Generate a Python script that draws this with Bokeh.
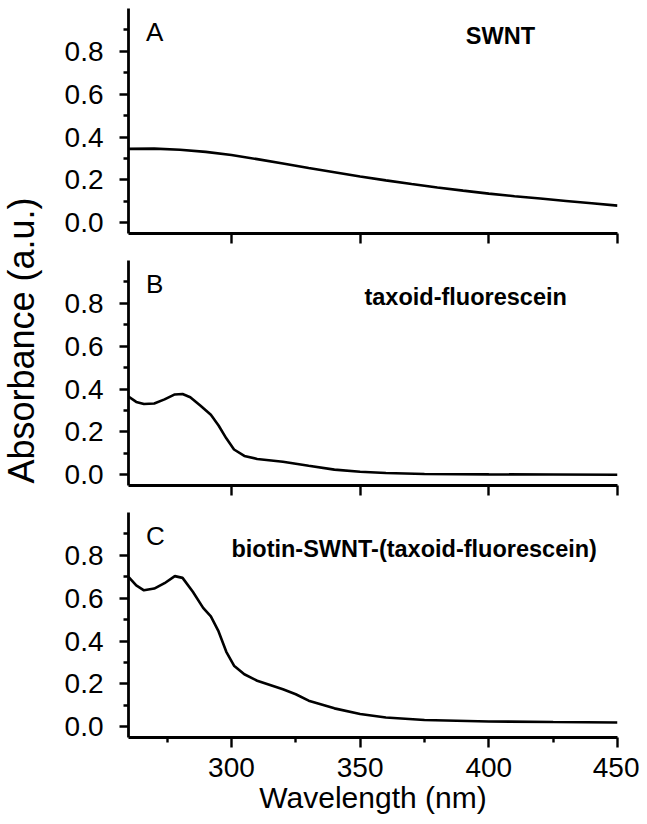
import math
from bokeh.plotting import figure
from bokeh.layouts import row, column
from bokeh.models import FixedTicker, Range1d, Label
from bokeh.embed import file_html
from bokeh.resources import INLINE

# ---------------- data ----------------
wl_a = [260, 270, 280, 290, 300, 310, 320, 330, 340, 350, 360, 370, 380, 390, 400, 410, 420, 430, 440, 450]
abs_a = [0.345, 0.346, 0.341, 0.331, 0.316, 0.297, 0.277, 0.256, 0.236, 0.216, 0.198, 0.181, 0.165, 0.150, 0.136, 0.124, 0.113, 0.102, 0.091, 0.080]

wl_b = [260, 263, 266, 270, 274, 278, 281, 284, 288, 292, 295, 298, 301, 305, 310, 320, 330, 340, 350, 360, 375, 400, 425, 450]
abs_b = [0.365, 0.340, 0.330, 0.333, 0.352, 0.375, 0.377, 0.362, 0.322, 0.280, 0.230, 0.170, 0.118, 0.088, 0.074, 0.061, 0.042, 0.024, 0.014, 0.008, 0.004, 0.002, 0.001, 0.000]

wl_c = [260, 263, 266, 270, 274, 278, 281, 285, 289, 292, 295, 298, 301, 305, 310, 315, 320, 325, 330, 340, 350, 360, 375, 400, 425, 450]
abs_c = [0.700, 0.660, 0.637, 0.645, 0.670, 0.703, 0.695, 0.630, 0.555, 0.515, 0.445, 0.350, 0.285, 0.245, 0.215, 0.195, 0.175, 0.152, 0.122, 0.086, 0.060, 0.043, 0.032, 0.025, 0.022, 0.020]

panel_letters = ["A", "B", "C"]
panel_titles = ["SWNT", "taxoid-fluorescein", "biotin-SWNT-(taxoid-fluorescein)"]

y_major = [0.0, 0.2, 0.4, 0.6, 0.8]
y_minor = [0.1, 0.3, 0.5, 0.7, 0.9]
x_major = [300, 350, 400, 450]
x_minor = [275, 325, 375, 425]

x_label = "Wavelength (nm)"
y_label = "Absorbance (a.u.)"

FONT = "Liberation Sans"
FRAME_W = 489
FRAME_H = 225
LAB_W = 52
Y0, Y1 = -0.05, 1.0


def make_panel(wl, ab, letter, title, title_x, title_y, top, bottom):
    p = figure(frame_width=FRAME_W, frame_height=FRAME_H,
               x_range=Range1d(260, 450), y_range=Range1d(Y0, Y1),
               output_backend="svg", toolbar_location=None,
               min_border_left=128 - LAB_W, min_border_right=22,
               min_border_top=top, min_border_bottom=bottom)
    p.outline_line_color = None
    p.xgrid.visible = False
    p.ygrid.visible = False
    p.background_fill_color = "white"
    p.border_fill_color = "white"

    p.line(wl, ab, line_color="black", line_width=2.6)

    ya = p.yaxis[0]
    ya.ticker = FixedTicker(ticks=y_major, minor_ticks=y_minor)
    ya.major_label_overrides = {0.0: "0.0"}
    ya.axis_line_width = 2.8
    ya.major_tick_line_width = 2.4
    ya.minor_tick_line_width = 2.4
    ya.major_tick_out = 9
    ya.major_tick_in = 0
    ya.minor_tick_out = 5
    ya.minor_tick_in = 0
    ya.major_label_standoff = 16
    ya.major_label_text_font = FONT
    ya.major_label_text_font_size = "28px"
    ya.major_label_text_color = "black"

    xa = p.xaxis[0]
    xa.axis_line_width = 2.8
    xa.major_tick_line_width = 2.4
    xa.minor_tick_line_width = 2.4
    xa.major_tick_out = 10
    xa.major_tick_in = 0
    xa.minor_tick_out = 5
    xa.minor_tick_in = 0
    p.add_layout(Label(x=266.8, y=0.89, text=letter, text_font=FONT,
                       text_font_size="26px", text_align="left",
                       text_baseline="middle", text_color="black"))
    p.add_layout(Label(x=title_x, y=title_y, text=title, text_font=FONT,
                       text_font_size="23.5px", text_font_style="bold",
                       text_align="center", text_baseline="middle",
                       text_color="black"))
    return p


pa = make_panel(wl_a, abs_a, panel_letters[0], panel_titles[0], 404.5, 0.87, 8, 27)
pb = make_panel(wl_b, abs_b, panel_letters[1], panel_titles[1], 391.0, 0.83, 0, 27)
pc = make_panel(wl_c, abs_c, panel_letters[2], panel_titles[2], 371.0, 0.83, 0, 86)

for p in (pa, pb):
    xa = p.xaxis[0]
    xa.ticker = FixedTicker(ticks=x_major, minor_ticks=[])
    xa.major_label_overrides = {t: "" for t in x_major}
    xa.major_label_text_font_size = "1px"
    xa.major_label_standoff = 0

xc = pc.xaxis[0]
xc.ticker = FixedTicker(ticks=x_major, minor_ticks=x_minor)
xc.major_label_standoff = 10
xc.major_label_text_font = FONT
xc.major_label_text_font_size = "28px"
xc.major_label_text_color = "black"
xc.axis_label = x_label
xc.axis_label_text_font = FONT
xc.axis_label_text_font_size = "30px"
xc.axis_label_text_font_style = "normal"
xc.axis_label_text_color = "black"
xc.axis_label_standoff = 1

LAB_H = 260 + 252 + 311
lab = figure(width=LAB_W, height=LAB_H, x_range=Range1d(0, LAB_W), y_range=Range1d(0, LAB_H),
             output_backend="svg", toolbar_location=None,
             min_border=0, x_axis_type=None, y_axis_type=None)
lab.outline_line_color = None
lab.xgrid.visible = False
lab.ygrid.visible = False
lab.add_layout(Label(x=21, y=LAB_H - 340, text=y_label, text_font=FONT,
                     text_font_size="36px", angle=math.pi / 2,
                     text_align="center", text_baseline="middle",
                     text_color="black"))

layout = row(lab, column(pa, pb, pc, spacing=0), spacing=0)

open("out.html", "w").write(file_html(layout, INLINE))
